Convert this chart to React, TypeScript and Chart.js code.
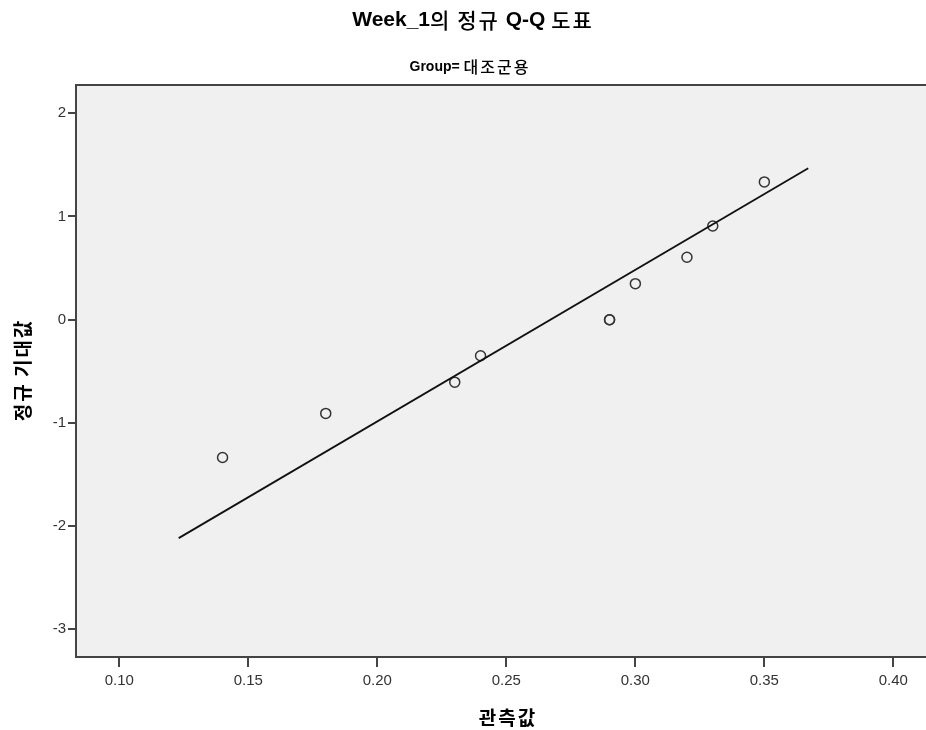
import React, { useEffect, useRef } from "react";
import { Chart, registerables } from "chart.js";
Chart.register(...registerables);

const observed = [0.14, 0.18, 0.23, 0.24, 0.29, 0.29, 0.3, 0.32, 0.33, 0.35];
const expectedNormal = [-1.335, -0.908, -0.605, -0.349, 0, 0, 0.349, 0.605, 0.908, 1.335];
const lineX = [0.123, 0.367];
const lineY = [-2.116, 1.467];
const xTicks = [0.1, 0.15, 0.2, 0.25, 0.3, 0.35, 0.4];
const yTicks = [-3, -2, -1, 0, 1, 2];
const xRange = [0.0832, 0.4173];
const yRange = [-3.268, 2.274];
const titleText = "Week_1의 정규 Q-Q 도표";
const subtitleText = "Group= 대조군용";
const xTitleText = "관측값";
const yTitleText = "정규 기대값";

const LATIN = '"Liberation Sans", Arial, sans-serif';
const KOREAN = '"Noto Sans CJK KR", "Liberation Sans", sans-serif';

function drawMixed(
  ctx: CanvasRenderingContext2D,
  text: string,
  cx: number,
  cy: number,
  latinSize: number,
  korSize: number,
  korSpacing: number,
  korWeight: string
) {
  const runs: { t: string; k: boolean }[] = [];
  for (const ch of text) {
    const k = /[\u1100-\u11FF\u3130-\u318F\uAC00-\uD7A3]/.test(ch);
    if (runs.length && runs[runs.length - 1].k === k) runs[runs.length - 1].t += ch;
    else runs.push({ t: ch, k });
  }
  const setFont = (k: boolean) => {
    ctx.font = k ? `${korWeight} ${korSize}px ${KOREAN}` : `bold ${latinSize}px ${LATIN}`;
    (ctx as any).letterSpacing = k ? `${korSpacing}px` : "0px";
  };
  let total = 0;
  const widths = runs.map((r, i) => {
    setFont(r.k);
    let w = ctx.measureText(r.t).width;
    if (r.k && i === runs.length - 1) w -= korSpacing;
    total += w;
    return w;
  });
  let x = cx - total / 2;
  ctx.textAlign = "left";
  ctx.textBaseline = "middle";
  runs.forEach((r, i) => {
    setFont(r.k);
    ctx.fillText(r.t, x, cy);
    x += widths[i];
  });
  (ctx as any).letterSpacing = "0px";
}

const spssPlugin = {
  id: "spssDecor",
  beforeDraw(chart: any) {
    const { ctx, chartArea: a } = chart;
    ctx.save();
    ctx.fillStyle = "#f0f0f0";
    ctx.fillRect(a.left, a.top, a.right - a.left, a.bottom - a.top);
    ctx.strokeStyle = "#444";
    ctx.lineWidth = 2;
    ctx.beginPath();
    ctx.moveTo(a.left, a.top);
    ctx.lineTo(a.right, a.top);
    ctx.stroke();
    ctx.restore();
  },
  afterDraw(chart: any) {
    const { ctx, chartArea: a } = chart;
    ctx.save();
    ctx.fillStyle = "#000";
    drawMixed(ctx, titleText, 472, 20, 21, 21, 2, "500");
    drawMixed(ctx, subtitleText, 469, 67, 14, 16, 2, "500");
    drawMixed(ctx, xTitleText, (a.left + a.right) / 2, 718, 19, 19, 2, "bold");
    ctx.translate(23, (a.top + a.bottom) / 2);
    ctx.rotate(-Math.PI / 2);
    drawMixed(ctx, yTitleText, 0, 0, 19, 19, 2, "bold");
    ctx.restore();
  },
};

export default function App() {
  const ref = useRef<HTMLCanvasElement | null>(null);
  useEffect(() => {
    if (!ref.current) return;
    const chart = new Chart(ref.current, {
      type: "scatter",
      data: {
        datasets: [
          {
            type: "line",
            data: lineX.map((x, i) => ({ x, y: lineY[i] })),
            borderColor: "#111",
            borderWidth: 1.8,
            pointRadius: 0,
            fill: false,
          } as any,
          {
            type: "scatter",
            data: observed.map((x, i) => ({ x, y: expectedNormal[i] })),
            pointStyle: "circle",
            pointRadius: 5,
            backgroundColor: "rgba(0,0,0,0)",
            borderColor: "#333",
            borderWidth: 1.5,
          },
        ],
      },
      options: {
        responsive: false,
        animation: false,
        layout: { padding: { top: 85, right: 22, left: 0, bottom: 0 } },
        plugins: { legend: { display: false }, tooltip: { enabled: false }, title: { display: false } },
        scales: {
          x: {
            type: "linear",
            position: "bottom",
            min: xRange[0],
            max: xRange[1],
            afterBuildTicks: (s: any) => {
              s.ticks = xTicks.map((value) => ({ value }));
            },
            afterFit: (s: any) => {
              s.height = 73;
            },
            grid: { drawOnChartArea: false, drawTicks: true, tickLength: 10, color: "#444", lineWidth: 2 },
            border: { display: true, color: "#444", width: 2 },
            ticks: {
              color: "#333",
              font: { size: 15, family: LATIN },
              padding: 5,
              maxRotation: 0,
              autoSkip: false,
              callback: (v: any) => Number(v).toFixed(2),
            },
          },
          y: {
            type: "linear",
            min: yRange[0],
            max: yRange[1],
            afterBuildTicks: (s: any) => {
              s.ticks = yTicks.map((value) => ({ value }));
            },
            afterFit: (s: any) => {
              s.width = 76;
            },
            grid: { drawOnChartArea: false, drawTicks: true, tickLength: 8, color: "#444", lineWidth: 2 },
            border: { display: true, color: "#444", width: 2 },
            ticks: {
              color: "#333",
              font: { size: 15, family: LATIN },
              padding: 2,
              autoSkip: false,
              callback: (v: any) => String(v),
            },
          },
        },
      },
      plugins: [spssPlugin],
    });
    return () => chart.destroy();
  }, []);
  return (
    <div style={{ position: "absolute", left: 0, top: 0, width: 926, height: 730, overflow: "hidden", background: "#fff" }}>
      <canvas ref={ref} width={960} height={730} />
    </div>
  );
}
